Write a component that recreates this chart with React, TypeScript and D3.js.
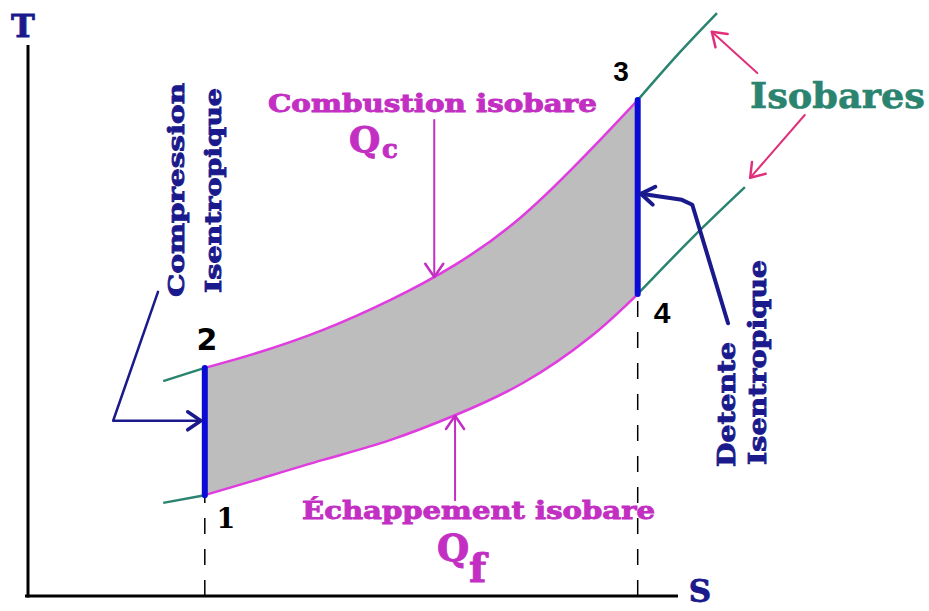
import React from 'react';
import * as d3 from 'd3';

// entropy (s) and temperature (T) in arbitrary units, 0..100 on each axis
const sCycle = [27.2, 35.2, 45.4, 55.7, 65.7, 76.2, 86.5, 93.8];
const tCombustion = [41.4, 44.1, 48.3, 53.7, 60.1, 69.1, 80.9, 90.0];
const tEchappement = [18.3, 21.1, 24.7, 28.3, 32.8, 38.7, 47.0, 54.8];

// isobar stubs outside the cycle
const sIsoLeft = [20.8, 27.2];
const tIsoHighLeft = [39.0, 41.4];
const tIsoLowLeft = [16.9, 18.3];
const sIsoHighRight = [93.8, 100.3, 106.0];
const tIsoHighRight = [90.0, 98.7, 105.8];
const sIsoLowRight = [93.8, 102.2, 110.3];
const tIsoLowRight = [54.8, 65.0, 74.2];

// annotation arrows, last point is the tip
const arrowCompression: [number, number][] = [[20.0, 55.2], [13.1, 31.8], [26.6, 31.8]];
const arrowCombustion: [number, number][] = [[62.5, 86.4], [62.5, 57.9]];
const arrowEchappement: [number, number][] = [[65.7, 17.4], [65.7, 32.7]];
const arrowDetente: [number, number][] = [[107.7, 49.5], [102.2, 71.0], [100.6, 71.9], [94.3, 73.0]];
const arrowIsoHigh: [number, number][] = [[112.2, 94.9], [105.2, 102.4]];
const arrowIsoLow: [number, number][] = [[119.5, 87.3], [111.1, 75.9]];

const W = 929, H = 611;
const NAVY = '#1a1a8c';
const BLUE = '#0b0bd6';
const MAGENTA = '#e03ce0';
const MAGENTA_TXT = '#c22fc2';
const TEAL = '#2a8470';
const PINK = '#e0307a';
const SERIF = '"DejaVu Serif", serif';

const x = d3.scaleLinear().domain([0, 100]).range([28, 678]);
const y = d3.scaleLinear().domain([0, 100]).range([596, 45]);

const smooth = d3.line<[number, number]>()
  .x(d => x(d[0])).y(d => y(d[1]))
  .curve(d3.curveNatural);
const straight = d3.line<[number, number]>().x(d => x(d[0])).y(d => y(d[1]));

const zip = (a: number[], b: number[]) => a.map((v, i) => [v, b[i]] as [number, number]);

function head(pts: [number, number][], len = 16, ang = 0.6) {
  const [ax, ay] = pts[pts.length - 2];
  const [bx, by] = pts[pts.length - 1];
  const px = x(bx), py = y(by);
  const a = Math.atan2(py - y(ay), px - x(ax));
  const p1 = [px - len * Math.cos(a - ang), py - len * Math.sin(a - ang)];
  const p2 = [px - len * Math.cos(a + ang), py - len * Math.sin(a + ang)];
  return `M${p1[0]},${p1[1]}L${px},${py}L${p2[0]},${p2[1]}`;
}

function Arrow({ pts, color, width, hw }: { pts: [number, number][]; color: string; width: number; hw?: number }) {
  return (
    <g fill="none" stroke={color} strokeLinecap="round" strokeLinejoin="round">
      <path d={straight(pts) || ''} strokeWidth={width} />
      <path d={head(pts)} strokeWidth={hw || width + 0.5} />
    </g>
  );
}

export default function App() {
  const area = d3.area<number>()
    .x(d => x(d))
    .y0((d, i) => y(tEchappement[i]))
    .y1((d, i) => y(tCombustion[i]))
    .curve(d3.curveNatural);
  const last = sCycle.length - 1;

  return (
    <svg width={W} height={H} style={{ position: 'absolute', left: 0, top: 0, background: '#fff' }}>
      {/* cycle area */}
      <path d={area(sCycle) || ''} fill="#bdbdbd" />
      <path d={smooth(zip(sCycle, tCombustion)) || ''} fill="none" stroke={MAGENTA} strokeWidth={2.5} />
      <path d={smooth(zip(sCycle, tEchappement)) || ''} fill="none" stroke={MAGENTA} strokeWidth={2.5} />

      {/* isobars */}
      <g fill="none" stroke={TEAL} strokeWidth={2.5}>
        <path d={smooth(zip(sIsoLeft, tIsoHighLeft)) || ''} />
        <path d={smooth(zip(sIsoLeft, tIsoLowLeft)) || ''} />
        <path d={smooth(zip(sIsoHighRight, tIsoHighRight)) || ''} />
        <path d={smooth(zip(sIsoLowRight, tIsoLowRight)) || ''} />
      </g>

      {/* dashed guides */}
      <g stroke="#000" strokeWidth={1.5} strokeDasharray="16,15">
        <line x1={x(sCycle[0])} x2={x(sCycle[0])} y1={y(0)} y2={y(tEchappement[0])} />
        <line x1={x(sCycle[last])} x2={x(sCycle[last])} y1={y(0)} y2={y(tEchappement[last])} />
      </g>

      {/* isentropes */}
      <g stroke={BLUE} strokeWidth={6} strokeLinecap="round">
        <line x1={x(sCycle[0])} x2={x(sCycle[0])} y1={y(tEchappement[0])} y2={y(tCombustion[0])} />
        <line x1={x(sCycle[last])} x2={x(sCycle[last])} y1={y(tEchappement[last])} y2={y(tCombustion[last])} />
      </g>

      {/* axes */}
      <g stroke="#000" strokeWidth={3}>
        <line x1={x(0)} x2={x(0)} y1={y(0) + 1.5} y2={y(100)} />
        <line x1={x(0) - 3} x2={x(100)} y1={y(0)} y2={y(0)} />
      </g>
      <g fontFamily={SERIF} fontWeight="bold" fill={NAVY} stroke={NAVY} strokeWidth={0.8} textAnchor="middle">
        <text x={23} y={37} fontSize={32}>T</text>
        <text x={700} y={602} fontSize={31}>S</text>
      </g>

      {/* arrows */}
      <Arrow pts={arrowCompression} color={NAVY} width={2.5} hw={3.5} />
      <Arrow pts={arrowDetente} color={NAVY} width={4} hw={4} />
      <Arrow pts={arrowCombustion} color={MAGENTA_TXT} width={2} hw={2.5} />
      <Arrow pts={arrowEchappement} color={MAGENTA_TXT} width={2} hw={2.5} />
      <Arrow pts={arrowIsoHigh} color={PINK} width={2} hw={2.5} />
      <Arrow pts={arrowIsoLow} color={PINK} width={2} hw={2.5} />

      {/* point numbers */}
      <g fontWeight="bold" fill="#000" textAnchor="middle">
        <text x={226} y={528} fontFamily={SERIF} fontSize={27}>1</text>
        <text x={207} y={350} fontFamily='"DejaVu Sans", sans-serif' fontSize={30}>2</text>
        <text x={621} y={81} fontFamily='"Liberation Sans", sans-serif' fontSize={28}>3</text>
        <text x={662} y={323} fontFamily='"Liberation Sans", sans-serif' fontSize={30}>4</text>
      </g>

      {/* labels */}
      <g fontFamily={SERIF} fontWeight="bold" strokeWidth={0.9}>
        <g fill={MAGENTA_TXT} stroke={MAGENTA_TXT}>
          <text x={268} y={112} fontSize={24} textLength={329} lengthAdjust="spacingAndGlyphs">Combustion isobare</text>
          <text x={302} y={519} fontSize={25} textLength={353} lengthAdjust="spacingAndGlyphs">Échappement isobare</text>
          <text x={349} y={152} fontSize={36}>Q</text>
          <text x={382} y={158} fontSize={26}>c</text>
          <text x={437} y={561} fontSize={37}>Q</text>
          <text x={469} y={582} fontSize={40}>f</text>
        </g>
        <text x={750} y={108} fontSize={36} fill={TEAL} stroke={TEAL} strokeWidth={0.6} textLength={175} lengthAdjust="spacingAndGlyphs">Isobares</text>
        <g fill={NAVY} stroke={NAVY}>
          <text transform="translate(184,297) rotate(-90)" fontSize={23} textLength={214} lengthAdjust="spacingAndGlyphs">Compression</text>
          <text transform="translate(221,293) rotate(-90)" fontSize={23} textLength={205} lengthAdjust="spacingAndGlyphs">Isentropique</text>
          <text transform="translate(735,467) rotate(-90)" fontSize={24} textLength={125} lengthAdjust="spacingAndGlyphs">Detente</text>
          <text transform="translate(766,465) rotate(-90)" fontSize={24} textLength={205} lengthAdjust="spacingAndGlyphs">Isentropique</text>
        </g>
      </g>
    </svg>
  );
}
